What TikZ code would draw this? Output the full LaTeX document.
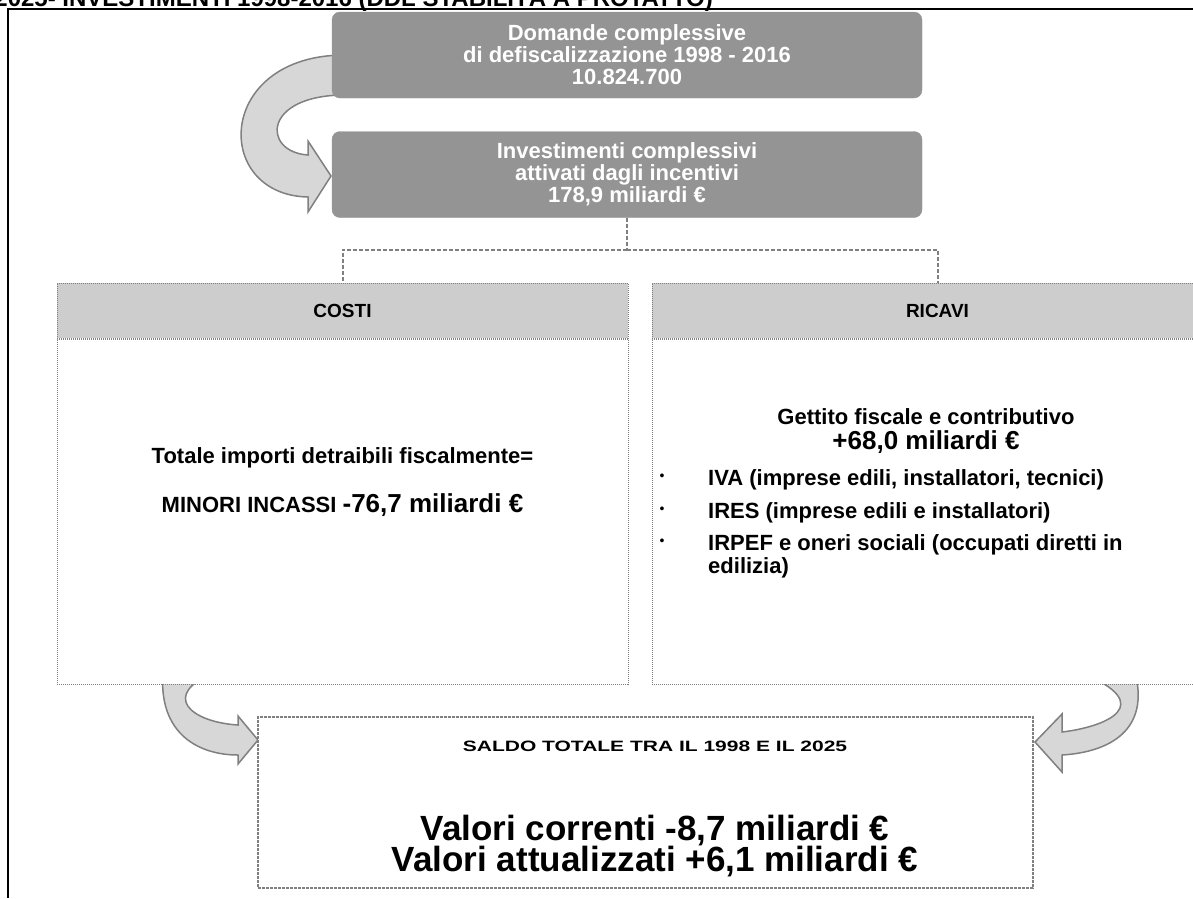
\documentclass[tikz,border=0pt]{standalone}
\usepackage{fontspec}
\usepackage{graphicx}
\setmainfont{Liberation Sans}
\usetikzlibrary{positioning}
\definecolor{boxgray}{RGB}{148,148,148}
\definecolor{headgray}{RGB}{205,205,205}
\definecolor{linegray}{RGB}{128,128,128}
\definecolor{arrowfill}{RGB}{215,215,215}
\tikzstyle{darkbox} = [rounded corners=8pt, fill=boxgray, draw=boxgray, text=white, align=center, font=\bfseries\fontsize{22}{22}\selectfont, minimum width=590pt, minimum height=86pt, inner sep=0pt]
\tikzstyle{headbox} = [fill=headgray, draw=linegray, densely dotted, line width=1pt, minimum width=571pt, minimum height=55pt, inner sep=0pt, font=\bfseries\fontsize{19}{20}\selectfont]
\tikzstyle{bodybox} = [fill=white, draw=linegray, densely dotted, line width=1pt, minimum width=571pt, minimum height=345pt, inner sep=0pt]
\tikzstyle{saldobox} = [fill=white, draw=linegray, dash pattern=on 3pt off 1pt, line width=1.5pt, minimum width=775pt, minimum height=171pt, inner sep=0pt]
\tikzstyle{conn} = [draw=linegray, line width=2pt, dash pattern=on 4pt off 2pt]
\tikzstyle{blockarrow} = [fill=arrowfill, draw=linegray, line width=1.5pt]
\tikzstyle{bodytext} = [inner sep=0pt, font=\bfseries\fontsize{22}{24}\selectfont]
\tikzstyle{bignum} = [inner sep=0pt, font=\bfseries\fontsize{26}{28}\selectfont]
\tikzstyle{valuetext} = [inner sep=0pt, align=center, font=\bfseries\fontsize{35}{30}\selectfont]
\begin{document}
\begin{tikzpicture}[x=1pt, y=-1pt]
	\useasboundingbox (0,0) rectangle (1193,898);

	% frame and cut title
	\node[anchor=base east, inner sep=0pt, font=\bfseries\fontsize{24}{24}\selectfont] (titolo) at (713,6) {2025- INVESTIMENTI 1998-2016 (DDL STABILITÀ A PROTATTO)};
	\draw[line width=2pt] (8,898) -- (8,9) -- (1193,9);

	% block arrows
	\draw[blockarrow] (345,55) .. controls (215,55) and (212,195) .. (308,197) -- (308,212) -- (331,176) -- (308,141) -- (308,155) .. controls (262,152) and (262,95) .. (345,95) -- cycle;
	\draw[blockarrow] (163,672) .. controls (158,735) and (200,755) .. (238,755) -- (238,764) -- (258,740) -- (238,716) -- (238,725) .. controls (190,722) and (160,695) .. (215,672) -- cycle;
	\draw[blockarrow] (1135,672) .. controls (1150,730) and (1110,752) .. (1062,755) -- (1062,772) -- (1035,742) -- (1062,714) -- (1062,732) .. controls (1105,727) and (1160,705) .. (1080,672) -- cycle;

	% top boxes
	\node[darkbox] (dom) at (627,55) {Domande complessive\\di defiscalizzazione 1998 - 2016\\10.824.700};
	\node[darkbox] (inv) at (627,174.5) {Investimenti complessivi\\attivati dagli incentivi\\178,9 miliardi €};

	% costi / ricavi
	\node[headbox] (costi) at (342.5,310.5) {COSTI};
	\node[bodybox, below=0pt of costi] (costibody) {};
	\node[headbox] (ricavi) at (937.5,310.5) {RICAVI};
	\node[bodybox, below=0pt of ricavi] (ricavibody) {};

	\draw[conn] (inv.south) -- ++(0,32) coordinate (split);
	\draw[conn] (split) -| (costi.north);
	\draw[conn] (split) -| (ricavi.north);

	\node[bodytext] (totale) at (342.5,458) {Totale importi detraibili fiscalmente=};
	\node[bodytext] (minori) at (342.5,505) {MINORI INCASSI {\fontsize{26}{28}\selectfont -76,7 miliardi €}};

	\node[bodytext] (gettito) at (926,417) {Gettito fiscale e contributivo};
	\node[bignum] (piu) at (926,442) {+68,0 miliardi €};
	\foreach \yy/\txt [count=\i] in {477/{IVA (imprese edili, installatori, tecnici)}, 510/{IRES (imprese edili e installatori)}, 542/{IRPEF e oneri sociali (occupati diretti in}} {
		\node[bodytext, anchor=base west] (voce\i) at (708,\yy+8) {\txt};
		\node[inner sep=0pt, font=\fontsize{14}{14}\selectfont] (dot\i) at (662,\yy) {•};
	}
	\node[bodytext, anchor=base west] (voce3b) at (708,573) {edilizia)};

	% saldo
	\node[saldobox] (saldo) at (645.5,802.5) {};
	\node[inner sep=0pt, font=\bfseries\fontsize{15}{16}\selectfont] (saldotit) at (655,746) {\scalebox{1.4}[1]{SALDO TOTALE TRA IL 1998 E IL 2025}};
	\node[valuetext] (valori) at (655,846) {Valori correnti -8,7 miliardi €\\Valori attualizzati +6,1 miliardi €};
\end{tikzpicture}
\end{document}
